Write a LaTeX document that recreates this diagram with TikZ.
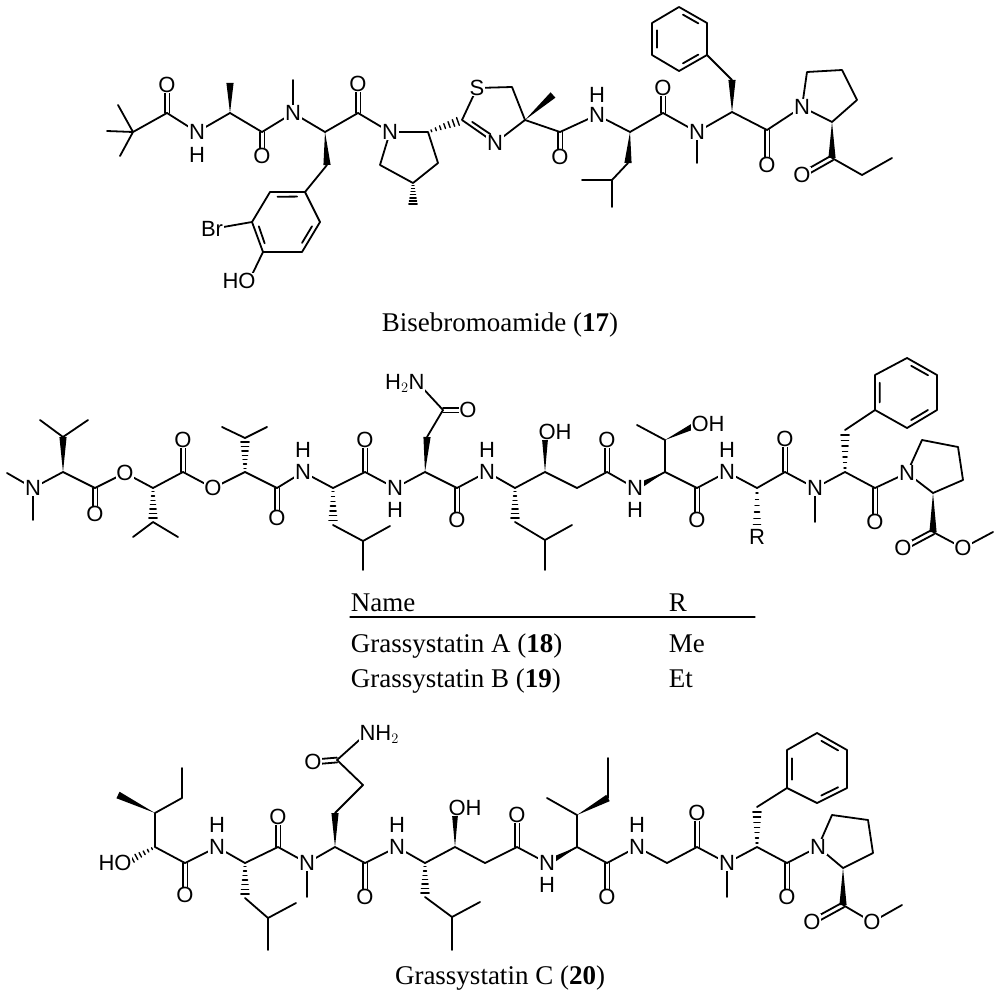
\documentclass[tikz,border=0pt]{standalone}
\usepackage{fontspec}
\setmainfont{Liberation Serif}
\newfontfamily\af{Liberation Sans}
\usetikzlibrary{calc}
\newcommand\dbd[2]{\draw ($(#1)!2.4pt!90:(#2)$) -- ($(#2)!2.4pt!-90:(#1)$) ($(#1)!2.4pt!-90:(#2)$) -- ($(#2)!2.4pt!90:(#1)$);}
\newcommand\inr[3]{\draw ($($(#1)!.17!(#2)$)!5pt!(#3)$) -- ($($(#2)!.17!(#1)$)!5pt!(#3)$);}
\newcommand\wdg[2]{\fill (#1) -- ($(#2)!3.6pt!90:(#1)$) -- ($(#2)!3.6pt!-90:(#1)$) -- cycle;}
\newcommand\hsh[2]{\foreach \t [evaluate=\t as \w using \t*4+0.6] in {0.1,0.23,...,0.95}{\draw[line width=1.4pt] ($(#1)!\t!(#2)!\w pt!90:(#2)$) -- ($(#1)!\t!(#2)!\w pt!-90:(#2)$);}}
\begin{document}
\begin{tikzpicture}[x=1pt,y=-1pt,line width=1.8pt,line cap=round,line join=round,
 lab/.style={font=\af\fontsize{22}{22}\selectfont,fill=white,inner sep=0.6pt},
 hl/.style={font=\af\fontsize{22}{22}\selectfont,inner sep=0.6pt},
 cpt/.style={font=\fontsize{27}{27}\selectfont,inner sep=0pt}]
\useasboundingbox (0,0) rectangle (1000,1000);
% ================= Bisebromoamide =================
\coordinate (aQ) at (133,132); \coordinate (aM1) at (107,131); \coordinate (aM2) at (118,105); \coordinate (aM3) at (120,156);
\coordinate (aC1) at (167,113); \coordinate (aO1) at (167,85);
\coordinate (aN1) at (197,132); \coordinate (aH1) at (197,155);
\coordinate (aA) at (230,113); \coordinate (aAm) at (230,83);
\coordinate (aC2) at (262,132); \coordinate (aO2) at (262,156);
\coordinate (aN2) at (293,113); \coordinate (aN2m) at (293,80);
\coordinate (aB) at (325,132); \coordinate (aBc) at (327,165);
\coordinate (r1) at (305,192); \coordinate (r2) at (270,192); \coordinate (r3) at (252,222);
\coordinate (r4) at (263,252); \coordinate (r5) at (302,252); \coordinate (r6) at (320,222); \coordinate (rc) at (286,222);
\coordinate (aBr) at (212,229); \coordinate (aHO) at (249,281);
\coordinate (aC3) at (358,113); \coordinate (aO3) at (358,84);
\coordinate (aN3) at (390,132); \coordinate (p2) at (428,132); \coordinate (p3) at (438,163); \coordinate (p4) at (413,183); \coordinate (p5) at (380,165); \coordinate (p4m) at (413,207);
\coordinate (t2) at (462,120); \coordinate (tS) at (477,88); \coordinate (t5) at (512,87); \coordinate (t4) at (525,120); \coordinate (tN) at (495,143); \coordinate (tc) at (495,112); \coordinate (t4m) at (553,95);
\coordinate (aC4) at (560,132); \coordinate (aO4) at (560,157);
\coordinate (aN4) at (597,115); \coordinate (aH4) at (597,95);
\coordinate (aL) at (630,132); \coordinate (aL1) at (628,163); \coordinate (aL2) at (612,180); \coordinate (aL3) at (582,180); \coordinate (aL4) at (612,207);
\coordinate (aC5) at (663,113); \coordinate (aO5) at (663,88);
\coordinate (aN5) at (697,132); \coordinate (aN5m) at (697,163);
\coordinate (aF) at (732,112); \coordinate (aF1) at (732,80);
\coordinate (q1) at (679,7); \coordinate (q2) at (707,23); \coordinate (q3) at (707,55); \coordinate (q4) at (679,71); \coordinate (q5) at (652,55); \coordinate (q6) at (652,23); \coordinate (qc) at (679,39);
\coordinate (aC6) at (767,130); \coordinate (aO6) at (767,165);
\coordinate (aN6) at (802,107); \coordinate (v2) at (832,122); \coordinate (v3) at (857,100); \coordinate (v4) at (842,70); \coordinate (v5) at (807,72);
\coordinate (aK) at (832,158); \coordinate (aO7) at (802,175); \coordinate (aE1) at (862,175); \coordinate (aE2) at (892,158);

\draw (aM1)--(aQ) (aM2)--(aQ) (aM3)--(aQ) (aQ)--(aC1)--(aN1)--(aA)--(aC2)--(aN2)--(aB)--(aC3)--(aN3);
\dbd{aC1}{aO1} \dbd{aC2}{aO2} \dbd{aC3}{aO3}
\wdg{aA}{aAm} \draw (aN2)--(aN2m); \wdg{aB}{aBc}
\draw (aBc)--(r1)--(r2)--(r3)--(r4)--(r5)--(r6)--(r1); \inr{r1}{r2}{rc} \inr{r3}{r4}{rc} \inr{r5}{r6}{rc}
\draw (r3)--(aBr) (r4)--(aHO);
\draw (aN3)--(p2)--(p3)--(p4)--(p5)--(aN3); \hsh{p4}{p4m} \hsh{p2}{t2}
\draw (t2)--(tS)--(t5)--(t4)--(tN)--(t2); \inr{t2}{tN}{tc} \wdg{t4}{t4m}
\draw (t4)--(aC4)--(aN4)--(aL)--(aC5)--(aN5)--(aF)--(aC6)--(aN6);
\dbd{aC4}{aO4} \dbd{aC5}{aO5} \dbd{aC6}{aO6}
\wdg{aL}{aL1} \draw (aL1)--(aL2)--(aL3) (aL2)--(aL4) (aN5)--(aN5m);
\wdg{aF}{aF1} \draw (aF1)--(q3);
\draw (q1)--(q2)--(q3)--(q4)--(q5)--(q6)--(q1); \inr{q1}{q2}{qc} \inr{q3}{q4}{qc} \inr{q5}{q6}{qc}
\draw (aN6)--(v2)--(v3)--(v4)--(v5)--(aN6); \wdg{v2}{aK} \dbd{aK}{aO7} \draw (aK)--(aE1)--(aE2);

\foreach \n in {aO1,aO2,aO3,aO4,aO5,aO6,aO7} \node[lab] (\n l) at (\n) {O};
\foreach \n in {aN1,aN2,aN3,aN4,aN5,aN6,tN} \node[lab] (\n l) at (\n) {N};
\node[hl] (aH1l) at (aH1) {H}; \node[hl] (aH4l) at (aH4) {H};
\node[lab] (tSl) at (tS) {S};
\node[lab] (aBrl) at (aBr) {Br};
\node[lab,anchor=east,xshift=8pt] (aHOl) at (aHO) {HO};
\node[cpt] (cap1) at (500,325) {Bisebromoamide (\textbf{17})};

% ================= Grassystatin A/B =================
\coordinate (bN) at (33,488); \coordinate (bNm1) at (7,473); \coordinate (bNm2) at (33,520);
\coordinate (bA) at (63,472); \coordinate (bA1) at (63,437); \coordinate (bA2) at (40,420); \coordinate (bA3) at (88,420);
\coordinate (bC1) at (95,488); \coordinate (bO1) at (95,514);
\coordinate (bE1) at (125,473);
\coordinate (bB) at (153,488); \coordinate (bB1) at (153,522); \coordinate (bB2) at (133,537); \coordinate (bB3) at (178,537);
\coordinate (bC2) at (183,472); \coordinate (bO2) at (183,440);
\coordinate (bE2) at (213,488);
\coordinate (bD) at (245,472); \coordinate (bD1) at (245,438); \coordinate (bD2) at (222,427); \coordinate (bD3) at (267,427);
\coordinate (bC3) at (277,488); \coordinate (bO3) at (277,518);
\coordinate (bN1) at (303,472); \coordinate (bH1) at (303,450);
\coordinate (bL) at (333,488); \coordinate (bL1) at (333,525); \coordinate (bL2) at (363,541); \coordinate (bL3) at (390,526); \coordinate (bL4) at (363,570);
\coordinate (bC4) at (365,472); \coordinate (bO4) at (365,440);
\coordinate (bN2) at (395,488); \coordinate (bH2) at (395,510);
\coordinate (bQ) at (425,472); \coordinate (bQ1) at (427,437); \coordinate (bQ2) at (443,410); \coordinate (bO5) at (468,410); \coordinate (bNH2) at (418,383);
\coordinate (bC5) at (457,488); \coordinate (bO6) at (457,520);
\coordinate (bN3) at (487,472); \coordinate (bH3) at (487,450);
\coordinate (bS) at (515,488); \coordinate (bS1) at (515,522); \coordinate (bS2) at (545,540); \coordinate (bS3) at (572,525); \coordinate (bS4) at (545,570);
\coordinate (bG) at (545,472); \coordinate (bOH1) at (545,432);
\coordinate (bH) at (577,488); \coordinate (bC6) at (607,472); \coordinate (bO7) at (607,440);
\coordinate (bN4) at (635,488); \coordinate (bH4) at (635,510);
\coordinate (bT) at (665,472); \coordinate (bT1) at (665,440); \coordinate (bT2) at (637,425); \coordinate (bOH2) at (698,424);
\coordinate (bC7) at (697,488); \coordinate (bO8) at (697,520);
\coordinate (bN5) at (727,472); \coordinate (bH5) at (727,450);
\coordinate (bR) at (757,488); \coordinate (bRl) at (757,537);
\coordinate (bC8) at (785,472); \coordinate (bO9) at (785,439);
\coordinate (bN6) at (815,488); \coordinate (bN6m) at (815,522);
\coordinate (bF) at (845,472); \coordinate (bF1) at (845,430);
\coordinate (s1) at (875,410); \coordinate (s2) at (875,375); \coordinate (s3) at (907,358); \coordinate (s4) at (937,375); \coordinate (s5) at (937,410); \coordinate (s6) at (907,428); \coordinate (sc) at (906,393);
\coordinate (bC9) at (875,488); \coordinate (bO10) at (875,522);
\coordinate (bNp) at (907,473); \coordinate (w2) at (933,493); \coordinate (w3) at (963,480); \coordinate (w4) at (958,447); \coordinate (w5) at (922,440);
\coordinate (bK) at (933,532); \coordinate (bO11) at (903,548); \coordinate (bO12) at (963,548); \coordinate (bMe) at (993,532);

\draw (bNm1)--(bN)--(bNm2) (bN)--(bA)--(bC1)--(bE1)--(bB)--(bC2)--(bE2)--(bD)--(bC3)--(bN1)--(bL)--(bC4)--(bN2)--(bQ)--(bC5)--(bN3)--(bS)--(bG)--(bH)--(bC6)--(bN4)--(bT)--(bC7)--(bN5)--(bR)--(bC8)--(bN6)--(bF)--(bC9)--(bNp);
\wdg{bA}{bA1} \draw (bA2)--(bA1)--(bA3);
\hsh{bB}{bB1} \draw (bB2)--(bB1)--(bB3);
\hsh{bD}{bD1} \draw (bD2)--(bD1)--(bD3);
\hsh{bL}{bL1} \draw (bL1)--(bL2)--(bL3) (bL2)--(bL4);
\wdg{bQ}{bQ1} \draw (bQ1)--(bQ2)--(bNH2); \dbd{bQ2}{bO5}
\hsh{bS}{bS1} \draw (bS1)--(bS2)--(bS3) (bS2)--(bS4);
\wdg{bG}{bOH1}
\wdg{bT}{bN4} \draw (bT)--(bT1)--(bT2); \wdg{bT1}{bOH2}
\hsh{bR}{bRl}
\draw (bN6)--(bN6m); \hsh{bF}{bF1} \draw (bF1)--(s1);
\draw (s1)--(s2)--(s3)--(s4)--(s5)--(s6)--(s1); \inr{s1}{s2}{sc} \inr{s3}{s4}{sc} \inr{s5}{s6}{sc}
\draw (bNp)--(w2)--(w3)--(w4)--(w5)--(bNp); \wdg{w2}{bK} \dbd{bK}{bO11} \draw (bK)--(bO12)--(bMe);
\dbd{bC1}{bO1} \dbd{bC2}{bO2} \dbd{bC3}{bO3} \dbd{bC4}{bO4} \dbd{bC5}{bO6} \dbd{bC6}{bO7} \dbd{bC7}{bO8} \dbd{bC8}{bO9} \dbd{bC9}{bO10}

\foreach \n in {bO1,bO2,bO3,bO4,bO5,bO6,bO7,bO8,bO9,bO10,bO11,bO12,bE1,bE2} \node[lab] (\n l) at (\n) {O};
\foreach \n in {bN,bN1,bN2,bN3,bN4,bN5,bN6,bNp} \node[lab] (\n l) at (\n) {N};
\foreach \n in {bH1,bH2,bH3,bH4,bH5} \node[hl] (\n l) at (\n) {H};
\node[lab,anchor=east,xshift=8pt] (bNH2l) at (bNH2) {H$_2$N};
\node[lab,anchor=west,xshift=-8pt] (bOH1l) at (bOH1) {OH};
\node[lab,anchor=west,xshift=-8pt] (bOH2l) at (bOH2) {OH};
\node[lab] (bRll) at (bRl) {R};

\node[cpt,anchor=base west] (tName) at (350,611) {Name};
\node[cpt,anchor=base west] (tR) at (668,611) {R};
\coordinate (tl1) at (350,617); \coordinate (tl2) at (755,617);
\draw[line width=1.2pt] (tl1)--(tl2);
\node[cpt,anchor=base west] (tA) at (350,652) {Grassystatin A (\textbf{18})};
\node[cpt,anchor=base west] (tAr) at (668,652) {Me};
\node[cpt,anchor=base west] (tB) at (350,687) {Grassystatin B (\textbf{19})};
\node[cpt,anchor=base west] (tBr) at (668,687) {Et};

% ================= Grassystatin C =================
\coordinate (cA) at (155,847); \coordinate (cHO) at (125,863);
\coordinate (cB) at (155,813); \coordinate (cB1) at (118,795); \coordinate (cB2) at (182,798); \coordinate (cB3) at (182,768);
\coordinate (cC1) at (185,863); \coordinate (cO1) at (185,895);
\coordinate (cN1) at (217,847); \coordinate (cH1) at (217,825);
\coordinate (cL) at (245,863); \coordinate (cL1) at (245,898); \coordinate (cL2) at (268,918); \coordinate (cL3) at (296,903); \coordinate (cL4) at (268,950);
\coordinate (cC2) at (278,847); \coordinate (cO2) at (278,817);
\coordinate (cN2) at (307,863); \coordinate (cN2m) at (307,897);
\coordinate (cQ) at (335,847); \coordinate (cQ1) at (335,813); \coordinate (cQ2) at (363,785); \coordinate (cQ3) at (337,760); \coordinate (cO3) at (313,762); \coordinate (cNH2) at (366,734);
\coordinate (cC3) at (365,863); \coordinate (cO4) at (365,897);
\coordinate (cN3) at (397,847); \coordinate (cH3) at (397,825);
\coordinate (cS) at (425,863); \coordinate (cS1) at (425,897); \coordinate (cS2) at (452,917); \coordinate (cS3) at (480,902); \coordinate (cS4) at (452,950);
\coordinate (cG) at (455,847); \coordinate (cOH) at (455,808);
\coordinate (cH) at (485,863); \coordinate (cC4) at (517,847); \coordinate (cO5) at (517,815);
\coordinate (cN4) at (547,863); \coordinate (cH4) at (547,885);
\coordinate (cI) at (577,847); \coordinate (cI1) at (577,815); \coordinate (cI2) at (547,798); \coordinate (cI3) at (608,798); \coordinate (cI4) at (608,758);
\coordinate (cC5) at (607,863); \coordinate (cO6) at (607,897);
\coordinate (cN5) at (637,847); \coordinate (cH5) at (637,825);
\coordinate (cG2) at (667,863); \coordinate (cC6) at (697,847); \coordinate (cO7) at (697,813);
\coordinate (cN6) at (727,863); \coordinate (cN6m) at (727,897);
\coordinate (cF) at (757,847); \coordinate (cF1) at (757,807);
\coordinate (u1) at (787,788); \coordinate (u2) at (787,750); \coordinate (u3) at (817,733); \coordinate (u4) at (847,750); \coordinate (u5) at (847,788); \coordinate (u6) at (817,803); \coordinate (uc) at (817,769);
\coordinate (cC7) at (787,863); \coordinate (cO8) at (787,897);
\coordinate (cNp) at (818,847); \coordinate (y2) at (843,868); \coordinate (y3) at (873,853); \coordinate (y4) at (868,820); \coordinate (y5) at (832,815);
\coordinate (cK) at (843,905); \coordinate (cO9) at (812,922); \coordinate (cO10) at (872,922); \coordinate (cMe) at (902,905);

\draw (cA)--(cC1)--(cN1)--(cL)--(cC2)--(cN2)--(cQ)--(cC3)--(cN3)--(cS)--(cG)--(cH)--(cC4)--(cN4)--(cI)--(cC5)--(cN5)--(cG2)--(cC6)--(cN6)--(cF)--(cC7)--(cNp);
\hsh{cA}{cHO} \draw (cA)--(cB)--(cB2)--(cB3); \wdg{cB}{cB1}
\hsh{cL}{cL1} \draw (cL1)--(cL2)--(cL3) (cL2)--(cL4);
\draw (cN2)--(cN2m); \wdg{cQ}{cQ1} \draw (cQ1)--(cQ2)--(cQ3)--(cNH2); \dbd{cQ3}{cO3}
\hsh{cS}{cS1} \draw (cS1)--(cS2)--(cS3) (cS2)--(cS4);
\wdg{cG}{cOH}
\wdg{cI}{cN4} \draw (cI)--(cI1)--(cI2); \wdg{cI1}{cI3} \draw (cI3)--(cI4);
\draw (cN6)--(cN6m); \hsh{cF}{cF1} \draw (cF1)--(u1);
\draw (u1)--(u2)--(u3)--(u4)--(u5)--(u6)--(u1); \inr{u1}{u2}{uc} \inr{u3}{u4}{uc} \inr{u5}{u6}{uc}
\draw (cNp)--(y2)--(y3)--(y4)--(y5)--(cNp); \wdg{y2}{cK} \dbd{cK}{cO9} \draw (cK)--(cO10)--(cMe);
\dbd{cC1}{cO1} \dbd{cC2}{cO2} \dbd{cC3}{cO4} \dbd{cC4}{cO5} \dbd{cC5}{cO6} \dbd{cC6}{cO7} \dbd{cC7}{cO8}

\foreach \n in {cO1,cO2,cO3,cO4,cO5,cO6,cO7,cO8,cO9,cO10} \node[lab] (\n l) at (\n) {O};
\foreach \n in {cN1,cN2,cN3,cN4,cN5,cN6,cNp} \node[lab] (\n l) at (\n) {N};
\foreach \n in {cH1,cH3,cH4,cH5} \node[hl] (\n l) at (\n) {H};
\node[lab,anchor=east,xshift=8pt] (cHOl) at (cHO) {HO};
\node[lab,anchor=west,xshift=-8pt] (cOHl) at (cOH) {OH};
\node[lab,anchor=west,xshift=-8pt] (cNH2l) at (cNH2) {NH$_2$};
\node[cpt] (cap3) at (500,978) {Grassystatin C (\textbf{20})};
\end{tikzpicture}
\end{document}
